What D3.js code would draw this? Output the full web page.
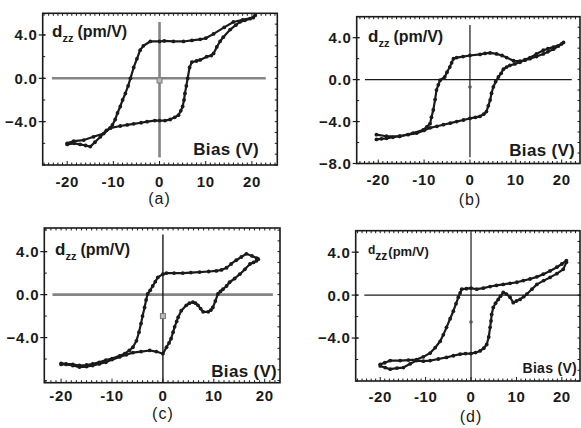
<!DOCTYPE html>
<html>
<head>
<meta charset="utf-8">
<script src="https://cdn.jsdelivr.net/npm/d3@7"></script>
<style>
body { margin: 0; background: #fff; }
svg { display: block; font-family: "Liberation Sans", Arial, sans-serif; }
</style>
</head>
<body>
<div id="chart"></div>
<script>
// tick labels and panel names
const biasTicks = [-20, -10, 0, 10, 20];
const dzzTicks = [4, 0, -4];
const dzzTicksB = [4, 0, -4, -8];
const panelNames = ["(a)", "(b)", "(c)", "(d)"];
const zeroMarkers = [-0.2, -0.7, -2, -2.5];

const upperA = [[20.3,5.6],[18,5.4],[16,5.2],[14,4.7],[11.7,4.1],[10,3.7],[8.8,3.6],[7,3.5],[5.2,3.4],[3,3.4],[1,3.45],[0,3.4],[-2,3.4],[-3.5,3.0],[-4.2,2.6],[-4.9,1.8],[-5.6,1.0],[-6.3,0],[-6.8,-0.7],[-7.4,-1.4],[-8,-2.0],[-8.5,-2.6],[-9.1,-3.2],[-9.6,-3.8],[-10.2,-4.3],[-10.7,-4.6],[-12.1,-5.1],[-14.3,-5.4],[-16.4,-5.7],[-18.6,-5.8],[-20,-6.0]];
const lowerA = [[-20,-6.1],[-18.5,-6.0],[-17.2,-6.1],[-16,-6.2],[-15,-6.3],[-14,-5.9],[-12.8,-5.4],[-11.5,-4.8],[-10.7,-4.6],[-8.5,-4.4],[-7,-4.3],[-5.6,-4.2],[-4,-4.1],[-2.7,-4.0],[-1,-3.9],[0,-3.9],[1.2,-3.9],[2.3,-3.8],[3.3,-3.6],[4.1,-3.4],[4.6,-3.0],[5,-2.6],[5.3,-2.0],[5.5,-1.4],[5.8,-0.7],[6.1,0],[6.5,1.0],[7,1.5],[8,1.6],[8.8,1.7],[10.2,2.0],[11.2,2.1],[11.7,2.3],[12.4,2.9],[13.1,3.4],[13.8,3.8],[15.3,4.5],[16.5,4.9],[17.4,5.2],[18.5,5.35],[19.6,5.5],[20.7,5.8]];

const upperB = [[20.4,3.55],[19.3,3.2],[18.2,2.9],[17,2.65],[16,2.45],[14.5,2.2],[13.1,2.0],[12,1.85],[10.9,1.76],[9.5,1.8],[8,2.1],[7,2.3],[5.8,2.45],[4.4,2.55],[3.3,2.5],[2.2,2.4],[0,2.3],[-1.5,2.2],[-2.9,2.1],[-3.6,2.0],[-4.0,1.6],[-4.4,1.2],[-5.0,0.7],[-5.5,0.25],[-6.5,-0.06],[-6.9,-0.5],[-7.3,-1.0],[-7.6,-1.9],[-8,-2.9],[-8.4,-3.6],[-8.7,-4.2],[-9.4,-4.5],[-10.2,-4.8],[-12.4,-5.1],[-15.3,-5.4],[-18.2,-5.4],[-20.4,-5.25]];
const lowerB = [[-20.4,-5.7],[-19.3,-5.65],[-18.2,-5.6],[-16.8,-5.5],[-15.3,-5.4],[-13.5,-5.25],[-11.6,-5.1],[-10,-4.85],[-8.7,-4.6],[-7.2,-4.45],[-5.8,-4.3],[-4.3,-4.15],[-2.9,-4.0],[-1.4,-3.85],[0,-3.7],[1.2,-3.6],[2.2,-3.5],[3,-3.3],[3.6,-3.05],[4.0,-2.5],[4.4,-1.95],[4.7,-1.3],[5.1,-0.7],[5.6,-0.2],[6.2,0.25],[6.8,0.6],[7.3,1.0],[8,1.2],[8.7,1.35],[9.8,1.5],[10.9,1.65],[12,1.9],[13.1,2.1],[14.5,2.45],[16,2.8],[17,2.95],[18.2,3.1],[20,3.4]];

const upperC = [[18.7,3.3],[18.4,3.4],[17.5,3.6],[16.4,3.8],[15.4,3.5],[14.4,3.2],[13.4,2.85],[12.5,2.5],[11.5,2.3],[10.5,2.2],[9,2.15],[7.2,2.1],[5.5,2.05],[3.9,2.0],[2.2,2.0],[0.7,2.0],[0,1.9],[-1,1.6],[-1.5,1.2],[-2,0.8],[-2.5,0.4],[-3,0.06],[-3.3,-0.5],[-3.6,-1.2],[-4,-2.0],[-4.3,-2.7],[-4.7,-3.5],[-5.2,-4.3],[-5.9,-4.9],[-6.6,-5.2],[-7.5,-5.5],[-8.5,-5.7],[-10,-5.95],[-11.2,-6.1],[-12.5,-6.3],[-13.8,-6.45],[-15,-6.55],[-16.4,-6.6],[-17.7,-6.5],[-19,-6.45],[-20,-6.4]];
const lowerC = [[-20,-6.5],[-19,-6.5],[-17.7,-6.6],[-16.4,-6.75],[-15,-6.7],[-13.8,-6.6],[-12.5,-6.45],[-11.2,-6.3],[-10,-6.05],[-8.5,-5.8],[-7.2,-5.6],[-5.9,-5.4],[-4.3,-5.3],[-2.6,-5.2],[-1.3,-5.3],[0,-5.5],[0.7,-4.9],[1.2,-4.5],[1.6,-4.1],[2,-3.5],[2.3,-3.0],[2.7,-2.5],[3.0,-2.1],[3.6,-1.5],[4.6,-1.0],[5.2,-0.8],[5.9,-0.7],[6.4,-0.8],[6.9,-1.0],[7.4,-1.3],[7.9,-1.6],[8.9,-1.6],[9.4,-1.45],[9.8,-1.2],[10.3,-0.6],[10.8,0.06],[11.3,0.3],[11.8,0.5],[12.5,0.8],[13.1,1.15],[14.1,1.5],[15.1,1.9],[16.1,2.35],[17.1,2.85],[17.8,3.0],[18.4,3.15],[18.7,3.3]];

const upperD = [[21,3.2],[20,2.9],[18.9,2.6],[17.4,2.25],[15.9,1.95],[14.5,1.7],[13,1.5],[11.5,1.35],[10.1,1.2],[8.6,1.1],[7.1,1.0],[5.6,0.9],[4.2,0.8],[2.7,0.65],[1.25,0.55],[0,0.65],[-1,0.6],[-2.05,0.55],[-2.4,0.2],[-2.8,-0.2],[-3.3,-0.8],[-3.9,-1.5],[-4.6,-2.2],[-5.4,-3.0],[-6.1,-3.7],[-6.8,-4.3],[-7.9,-4.9],[-9,-5.4],[-10.5,-5.75],[-12,-6.0],[-13.8,-6.05],[-15.6,-6.1],[-17.8,-6.1],[-19,-6.3],[-20,-6.45]];
const lowerD = [[-20,-6.6],[-18.9,-6.75],[-17.8,-6.9],[-16.3,-6.8],[-14.9,-6.75],[-13.4,-6.4],[-12,-6.1],[-10.5,-6.15],[-9,-6.1],[-7.2,-5.95],[-5.4,-5.8],[-3.9,-5.65],[-2.4,-5.5],[-1.2,-5.45],[0,-5.45],[1,-5.35],[2,-5.2],[2.8,-4.95],[3.45,-4.6],[3.9,-3.9],[4.2,-3.0],[4.4,-2.4],[4.55,-1.8],[4.9,-1.15],[5.4,-0.75],[6,-0.4],[6.5,-0.1],[7.1,0.25],[7.8,0.1],[8.6,-0.2],[9.3,-0.7],[10,-0.55],[10.8,-0.4],[11.6,-0.15],[12.3,0.1],[13.4,0.55],[14.5,1.0],[16,1.35],[17.4,1.65],[18.9,2.0],[20.3,2.4],[21,3.05]];

const INK = "#1a1a1a";

class HysteresisPanel {
    constructor(svg, opts) {
        this.svg = svg;
        this.o = opts;
    }

    createScales() {
        const f = this.o.frame;
        this.x = d3.scaleLinear().domain(this.o.xDomain).range([f.left, f.right]);
        this.y = d3.scaleLinear().domain(this.o.yDomain).range([f.bottom, f.top]);
    }

    renderFrame(g) {
        const f = this.o.frame;
        g.append("rect")
            .attr("x", f.left).attr("y", f.top)
            .attr("width", f.right - f.left).attr("height", f.bottom - f.top)
            .attr("fill", "none").attr("stroke", INK).attr("stroke-width", 1.6);

        const xMinor = d3.range(Math.ceil(this.o.xDomain[0]), this.o.xDomain[1], 1);
        const yMinorR = d3.range(Math.ceil(this.o.yDomain[0]), this.o.yDomain[1], 1);
        const yMinorL = d3.range(-8, this.o.yDomain[1], 2);

        // minor ticks, all inward
        g.selectAll(".tb").data(xMinor).enter().append("line")
            .attr("x1", d => this.x(d)).attr("x2", d => this.x(d))
            .attr("y1", f.bottom).attr("y2", d => f.bottom - (d % 10 === 0 ? 4 : 2.5))
            .attr("stroke", INK).attr("stroke-width", 1);
        g.selectAll(".tt").data(xMinor).enter().append("line")
            .attr("x1", d => this.x(d)).attr("x2", d => this.x(d))
            .attr("y1", f.top).attr("y2", f.top + 2.5)
            .attr("stroke", INK).attr("stroke-width", 1);
        g.selectAll(".tr").data(yMinorR).enter().append("line")
            .attr("x1", f.right).attr("x2", f.right - 2.5)
            .attr("y1", d => this.y(d)).attr("y2", d => this.y(d))
            .attr("stroke", INK).attr("stroke-width", 1);
        g.selectAll(".tl").data(yMinorL).enter().append("line")
            .attr("x1", f.left).attr("x2", f.left + 2.5)
            .attr("y1", d => this.y(d)).attr("y2", d => this.y(d))
            .attr("stroke", INK).attr("stroke-width", 1);
        // major ticks on the left, outward
        g.selectAll(".tm").data(this.o.yTicks).enter().append("line")
            .attr("x1", f.left - 4).attr("x2", f.left + 3)
            .attr("y1", d => this.y(d)).attr("y2", d => this.y(d))
            .attr("stroke", INK).attr("stroke-width", 1.2);
    }

    renderZeroLines(g) {
        const z = this.o.zero;
        g.append("line")
            .attr("x1", this.x(z.h[0])).attr("x2", this.x(z.h[1]))
            .attr("y1", this.y(0)).attr("y2", this.y(0))
            .attr("stroke", z.hColor).attr("stroke-width", z.hWidth);
        g.append("line")
            .attr("x1", this.x(0)).attr("x2", this.x(0))
            .attr("y1", this.y(z.v[0])).attr("y2", this.y(z.v[1]))
            .attr("stroke", z.vColor).attr("stroke-width", z.vWidth);
        if (z.square) {
            g.append("rect")
                .attr("x", this.x(0) - 2.5).attr("y", this.y(this.o.marker) - 2.5)
                .attr("width", 5).attr("height", 5)
                .attr("fill", "#bbb").attr("stroke", "#777").attr("stroke-width", 1);
        } else {
            g.append("circle")
                .attr("cx", this.x(0)).attr("cy", this.y(this.o.marker)).attr("r", 1.8)
                .attr("fill", "#555");
        }
    }

    renderBranch(g, pts) {
        const line = d3.line().x(d => this.x(d[0])).y(d => this.y(d[1])).curve(d3.curveLinear);
        g.append("path").datum(pts)
            .attr("fill", "none").attr("stroke", INK)
            .attr("stroke-width", 2.2).attr("stroke-linejoin", "round")
            .attr("d", line);
        g.selectAll(null).data(pts).enter().append("circle")
            .attr("cx", d => this.x(d[0])).attr("cy", d => this.y(d[1]))
            .attr("r", 1.9).attr("fill", INK);
    }

    renderLabels(g) {
        const f = this.o.frame, t = this.o.text;
        g.selectAll(".yl").data(this.o.yTicks).enter().append("text")
            .attr("x", f.left - 5).attr("y", d => this.y(d))
            .attr("dy", "0.36em").attr("text-anchor", "end")
            .attr("font-size", 15).attr("font-weight", "bold").attr("letter-spacing", 0.8)
            .attr("fill", INK)
            .text(d => d3.format(".1f")(d));
        g.selectAll(".xl").data(biasTicks).enter().append("text")
            .attr("x", d => this.x(d)).attr("y", f.bottom + t.xTickGap)
            .attr("text-anchor", "middle")
            .attr("font-size", 15).attr("font-weight", "bold").attr("letter-spacing", 0.6)
            .attr("fill", INK)
            .text(d => d);
        g.append("text")
            .attr("x", this.x(0)).attr("y", f.bottom + t.nameGap)
            .attr("text-anchor", "middle").attr("font-size", 16).attr("letter-spacing", 1)
            .attr("fill", INK)
            .text(this.o.name);

        // d_zz (pm/V)
        const lab = g.append("text")
            .attr("x", t.dzzX).attr("y", this.y(4) + t.dzzDy)
            .attr("fill", INK).attr("font-weight", "bold");
        lab.append("tspan").attr("font-size", t.dSize)
            .attr("dy", t.small ? -2 : 0).text("d");
        lab.append("tspan").attr("font-size", t.subSize).attr("dy", t.small ? 6 : 5).text("zz");
        lab.append("tspan").attr("font-size", t.unitSize).attr("dy", t.small ? -4 : -5)
            .attr("dx", t.small ? 1 : 4).text("(pm/V)");

        g.append("text")
            .attr("x", t.biasX).attr("y", t.biasY)
            .attr("text-anchor", "end").attr("font-size", t.biasSize).attr("font-weight", "bold")
            .attr("letter-spacing", 0.3).attr("fill", INK)
            .text("Bias (V)");
    }

    build() {
        this.createScales();
        const g = this.svg.append("g");
        this.renderZeroLines(g);
        this.renderBranch(g, this.o.upper);
        this.renderBranch(g, this.o.lower);
        this.renderFrame(g);
        this.renderLabels(g);
    }
}

const svg = d3.select("#chart").append("svg")
    .attr("width", 581).attr("height", 428);

const panels = [
    {
        name: panelNames[0], upper: upperA, lower: lowerA, marker: zeroMarkers[0], yTicks: dzzTicks,
        frame: { left: 42.7, right: 277.3, top: 13.3, bottom: 165 },
        xDomain: [-25.3, 25.5], yDomain: [-8, 6],
        zero: { h: [-23.3, 23], v: [5.2, -7.3], hColor: "#858585", hWidth: 2.6, vColor: "#858585", vWidth: 2.6, square: true },
        text: { xTickGap: 21.5, nameGap: 39, dzzX: 52, dzzDy: 2, dSize: 17, subSize: 11, unitSize: 16,
                biasX: 259, biasY: 155, biasSize: 17 }
    },
    {
        name: panelNames[1], upper: upperB, lower: lowerB, marker: zeroMarkers[1], yTicks: dzzTicksB,
        frame: { left: 356.7, right: 580, top: 16.7, bottom: 163.5 },
        xDomain: [-24.7, 24], yDomain: [-8, 6],
        zero: { h: [-22.9, 22.2], v: [5.2, -7.4], hColor: INK, hWidth: 1.2, vColor: INK, vWidth: 1.2, square: false },
        text: { xTickGap: 21, nameGap: 41.5, dzzX: 368, dzzDy: 4, dSize: 17, subSize: 11, unitSize: 16,
                biasX: 575, biasY: 156, biasSize: 17 }
    },
    {
        name: panelNames[2], upper: upperC, lower: lowerC, marker: zeroMarkers[2], yTicks: dzzTicks,
        frame: { left: 44.3, right: 280, top: 228, bottom: 382.7 },
        xDomain: [-23.3, 23], yDomain: [-8.2, 6.2],
        zero: { h: [-21.7, 21.6], v: [5.6, -8.2], hColor: "#858585", hWidth: 2.6, vColor: INK, vWidth: 1.4, square: true },
        text: { xTickGap: 18.5, nameGap: 36, dzzX: 55, dzzDy: 3.5, dSize: 17, subSize: 11, unitSize: 16,
                biasX: 277, biasY: 377, biasSize: 17 }
    },
    {
        name: panelNames[3], upper: upperD, lower: lowerD, marker: zeroMarkers[3], yTicks: dzzTicks,
        frame: { left: 355.7, right: 580, top: 230.7, bottom: 381 },
        xDomain: [-25.4, 24], yDomain: [-8, 6],
        zero: { h: [-23.5, 25], v: [5.8, -8], hColor: INK, hWidth: 1.2, vColor: INK, vWidth: 1.2, square: false },
        text: { xTickGap: 20.5, nameGap: 40.5, dzzX: 368, dzzDy: 4, dSize: 12, subSize: 12, unitSize: 13, small: true,
                biasX: 577, biasY: 373, biasSize: 14 }
    }
];

for (const p of panels) {
    new HysteresisPanel(svg, p).build();
}
</script>
</body>
</html>
